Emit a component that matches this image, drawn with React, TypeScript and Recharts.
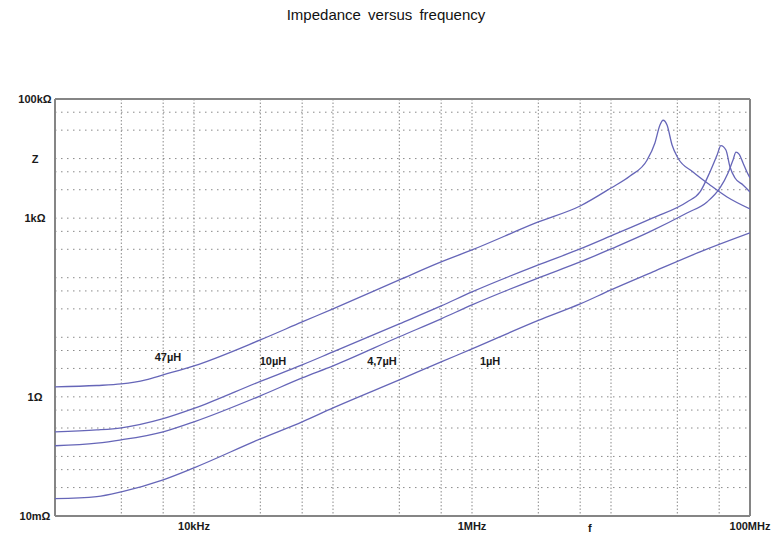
import React from 'react'
import { LineChart, Line, XAxis, YAxis, CartesianGrid, ReferenceLine, ReferenceDot } from 'recharts'

// frequency (Hz) and |Z| (ohm)
const F_47U = [1e3, 2e3, 3e3, 4.5e3, 6e3, 1e4, 3e4, 6e4, 1e5, 3e5, 6e5, 1e6, 3e6, 6e6, 1e7, 1.37e7, 1.82e7, 2.07e7, 2.25e7, 2.37e7, 2.53e7, 2.75e7, 3.03e7, 3.89e7, 5.15e7, 6.84e7, 1e8]
const Z_47U = [1.47, 1.55, 1.65, 1.93, 2.34, 3.31, 9.04, 18.1, 30.0, 91.8, 184, 293, 863, 1600, 3210, 5100, 9480, 18300, 36600, 44000, 36600, 16900, 10200, 5960, 3610, 2270, 1430]

const F_10U = [1e3, 2e3, 3e3, 6e3, 1e4, 3e4, 6e4, 1e5, 3e5, 6e5, 1e6, 3e6, 6e6, 1e7, 2e7, 3.52e7, 4.37e7, 5.15e7, 5.8e7, 6.18e7, 6.71e7, 7.18e7, 7.8e7, 8.91e7, 1e8]
const Z_10U = [0.259, 0.278, 0.302, 0.430, 0.640, 1.82, 3.44, 5.69, 16.8, 33.6, 57.8, 164, 304, 503, 1010, 1870, 2750, 5960, 11500, 16500, 13900, 7230, 4720, 3610, 2750]

const F_4U7 = [1e3, 2e3, 3e3, 6e3, 1e4, 3e4, 6e4, 1e5, 3e5, 6e5, 1e6, 3e6, 6e6, 1e7, 1.91e7, 3.52e7, 4.91e7, 6.08e7, 6.95e7, 7.55e7, 7.93e7, 8.34e7, 8.91e7, 9.51e7, 1e8]
const Z_4U7 = [0.151, 0.167, 0.190, 0.259, 0.381, 1.04, 2.08, 3.31, 10.2, 20.4, 35.0, 99.3, 184, 304, 593, 1220, 1870, 3210, 5730, 9480, 12800, 11900, 8440, 5960, 4720]

const F_1U = [1e3, 2e3, 3e3, 6e3, 1e4, 3e4, 6e4, 1e5, 3e5, 6e5, 1e6, 3e6, 6e6, 1e7, 2e7, 4.37e7, 1e8]
const Z_1U = [0.0195, 0.0212, 0.0255, 0.0405, 0.0644, 0.197, 0.381, 0.653, 1.93, 3.86, 6.38, 19.2, 36.3, 62.4, 125, 271, 565]

const X_TICKS = [1e3, 3e3, 6e3, 1e4, 3e4, 6e4, 1e5, 3e5, 6e5, 1e6, 3e6, 6e6, 1e7, 3e7, 6e7, 1e8]
const X_LABELS: Record<string, string> = { '10000': '10kHz', '1000000': '1MHz', '100000000': '100MHz' }
const Y_TICKS = [0.01, 0.03, 0.06, 0.1, 0.3, 0.6, 1, 3, 6, 10, 30, 60, 100, 300, 600, 1e3, 3e3, 6e3, 1e4, 3e4, 6e4, 1e5]
const Y_LABELS: Record<string, string> = { '0.01': '10mΩ', '1': '1Ω', '1000': '1kΩ', '10000': 'Z', '100000': '100kΩ' }

const CURVE_LABELS = [
  { f: 6.5e3, z: 4.74, text: '47µH' },
  { f: 3.7e4, z: 4.06, text: '10µH' },
  { f: 2.25e5, z: 4.06, text: '4,7µH' },
  { f: 1.35e6, z: 4.06, text: '1µH' },
]

const toPoints = (fs: number[], zs: number[]) => fs.map((f, i) => ({ f, z: zs[i] }))

const SERIES = [
  { name: '47µH', data: toPoints(F_47U, Z_47U) },
  { name: '10µH', data: toPoints(F_10U, Z_10U) },
  { name: '4,7µH', data: toPoints(F_4U7, Z_4U7) },
  { name: '1µH', data: toPoints(F_1U, Z_1U) },
]

const FONT = '"Liberation Sans", Arial, sans-serif'
const LINE_COLOR = '#6666b8'
const GRID_COLOR = '#8a8a8a'
const FRAME_COLOR = '#858585'
const TICK_STYLE = { fontSize: 11, fontWeight: 700, fill: '#1a1a1a', fontFamily: FONT }

function YTick({ y, payload }: any) {
  const text = Y_LABELS[String(payload.value)]
  if (!text) return null
  return (
    <text x={35} y={y} dy={4} textAnchor="middle" {...TICK_STYLE}>
      {text}
    </text>
  )
}

export default function App() {
  return (
    <div style={{ position: 'absolute', left: 0, top: 0, width: 772, height: 537, background: '#fff', fontFamily: FONT }}>
      <div style={{ position: 'absolute', top: 6, left: 0, width: 772, textAlign: 'center', fontSize: 15, color: '#111', wordSpacing: 3 }}>
        Impedance versus frequency
      </div>
      <div style={{ position: 'absolute', top: 522, left: 588, fontSize: 11, fontWeight: 700, color: '#1a1a1a' }}>f</div>
      <LineChart width={772} height={537} margin={{ top: 99, right: 22, bottom: 0, left: 0 }}>
        <CartesianGrid horizontal={true} vertical={false} stroke={GRID_COLOR} strokeDasharray="1.5 4.5" />
        <CartesianGrid horizontal={false} vertical={true} stroke={GRID_COLOR} strokeDasharray="1.5 2" />
        <XAxis
          type="number"
          dataKey="f"
          scale="log"
          domain={[1e3, 1e8]}
          ticks={X_TICKS}
          interval={0}
          allowDataOverflow
          height={21}
          axisLine={false}
          tickLine={false}
          tickSize={4}
          tickMargin={2}
          tick={TICK_STYLE}
          tickFormatter={(v) => X_LABELS[String(v)] ?? ''}
        />
        <YAxis
          type="number"
          dataKey="z"
          scale="log"
          domain={[0.01, 1e5]}
          ticks={Y_TICKS}
          interval={0}
          allowDataOverflow
          width={55}
          axisLine={false}
          tickLine={false}
          tick={<YTick />}
        />
        <ReferenceLine x={1e3} stroke={FRAME_COLOR} strokeWidth={2} />
        <ReferenceLine x={1e8} stroke={FRAME_COLOR} strokeWidth={2} />
        <ReferenceLine y={0.01} stroke={FRAME_COLOR} strokeWidth={2} />
        <ReferenceLine y={1e5} stroke={FRAME_COLOR} strokeWidth={2} />
        {SERIES.map((s) => (
          <Line
            key={s.name}
            data={s.data}
            dataKey="z"
            type="monotone"
            stroke={LINE_COLOR}
            strokeWidth={1.3}
            dot={false}
            isAnimationActive={false}
          />
        ))}
        {CURVE_LABELS.map((l) => (
          <ReferenceDot
            key={l.text}
            x={l.f}
            y={l.z}
            r={0}
            fill="none"
            stroke="none"
            label={{ value: l.text, position: 'center', style: TICK_STYLE }}
          />
        ))}
      </LineChart>
    </div>
  )
}
